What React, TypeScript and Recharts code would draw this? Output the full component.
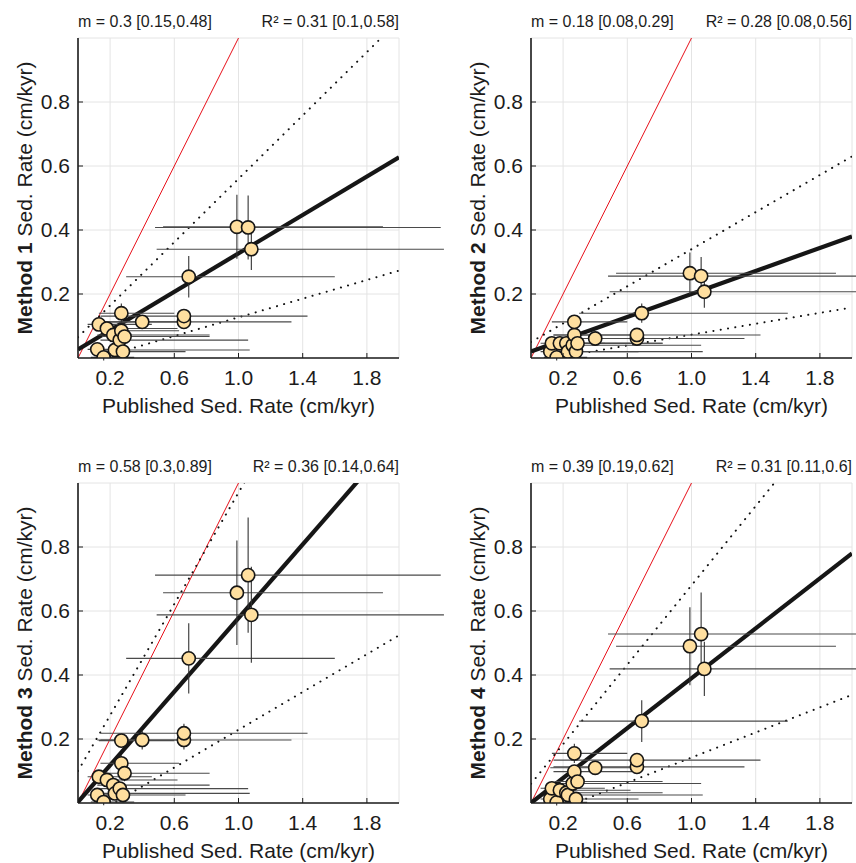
import { ComposedChart, Scatter, Line, XAxis, YAxis, CartesianGrid, ErrorBar, Label } from 'recharts'

// published sedimentation rates (shared by all four panels) and their uncertainty
const pubRate = [0.12, 0.13, 0.16, 0.18, 0.22, 0.23, 0.26, 0.27, 0.27, 0.28, 0.29, 0.40, 0.66, 0.66, 0.69, 0.99, 1.06, 1.08]
const pubLo = [0.06, 0.07, 0.08, 0.09, 0.10, 0.10, 0.12, 0.13, 0.14, 0.13, 0.14, 0.28, 0.52, 0.52, 0.39, 0.46, 0.58, 0.59]
const pubHi = [0.16, 0.33, 0.19, 0.44, 0.60, 0.84, 0.80, 0.36, 0.33, 0.39, 0.53, 0.22, 0.67, 0.77, 0.91, 0.91, 1.20, 1.20]

// estimated rates per method
const method1 = [0.027, 0.105, 0.002, 0.092, 0.072, 0.025, 0.056, 0.085, 0.14, 0.02, 0.067, 0.113, 0.113, 0.131, 0.254, 0.41, 0.408, 0.34]
const method2 = [0.02, 0.046, 0.002, 0.046, 0.046, 0.02, 0.04, 0.072, 0.113, 0.02, 0.046, 0.061, 0.061, 0.072, 0.14, 0.265, 0.256, 0.207]
const method3 = [0.025, 0.082, 0.003, 0.072, 0.056, 0.03, 0.045, 0.124, 0.195, 0.025, 0.093, 0.197, 0.197, 0.218, 0.452, 0.657, 0.712, 0.588]
const method4 = [0.0125, 0.046, 0.002, 0.04, 0.032, 0.025, 0.061, 0.098, 0.155, 0.0125, 0.067, 0.11, 0.113, 0.134, 0.256, 0.49, 0.528, 0.419]

const err1 = [0.01, 0.015, 0.01, 0.015, 0.015, 0.01, 0.015, 0.02, 0.03, 0.01, 0.02, 0.02, 0.02, 0.02, 0.065, 0.1, 0.1, 0.065]
const err2 = [0.01, 0.01, 0.01, 0.01, 0.01, 0.01, 0.01, 0.015, 0.02, 0.01, 0.01, 0.015, 0.015, 0.015, 0.03, 0.065, 0.06, 0.05]
const err3 = [0.015, 0.02, 0.01, 0.02, 0.02, 0.015, 0.02, 0.025, 0.02, 0.015, 0.025, 0.03, 0.03, 0.03, 0.11, 0.163, 0.18, 0.15]
const err4 = [0.01, 0.015, 0.01, 0.015, 0.015, 0.01, 0.015, 0.02, 0.03, 0.01, 0.02, 0.02, 0.02, 0.02, 0.065, 0.122, 0.13, 0.085]

const methods = [method1, method2, method3, method4]
const errors = [err1, err2, err3, err4]

// regression line and dotted bounds (slope, intercept)
const fitSlope = [0.3, 0.18, 0.575, 0.39]
const fitIntercept = [0.027, 0.02, 0.003, 0.0]
const upSlope = [0.495, 0.29, 0.87, 0.62]
const upIntercept = [0.065, 0.05, 0.1, 0.06]
const loSlope = [0.146, 0.085, 0.295, 0.196]
const loIntercept = [-0.019, -0.012, -0.066, -0.054]
const lineEnds = [0, 2]

const slopeText = ['m = 0.3 [0.15,0.48]', 'm = 0.18 [0.08,0.29]', 'm = 0.58 [0.3,0.89]', 'm = 0.39 [0.19,0.62]']
const r2Text = ['R² = 0.31 [0.1,0.58]', 'R² = 0.28 [0.08,0.56]', 'R² = 0.36 [0.14,0.64]', 'R² = 0.31 [0.11,0.6]']

const X_TICKS = [0.2, 0.6, 1.0, 1.4, 1.8]
const Y_TICKS = [0.2, 0.4, 0.6, 0.8]
const FONT = '"Liberation Sans", Arial, Helvetica, sans-serif'
const INK = '#1c1c1c'

const W = 455, H = 445
const M = { top: 38, right: 56, bottom: 0, left: 0 }
const TICK = 5

function Dot(p: any) {
  return <circle cx={p.cx} cy={p.cy} r={6.6} fill="#FFDF9F" stroke="#161616" strokeWidth={1.6} />
}
const NoDot = () => <g />

// MATLAB-style inward ticks, drawn next to the labels
const BottomTick = (p: any) => (
  <g>
    <line x1={p.x} x2={p.x} y1={p.y - 12} y2={p.y - 12 - TICK} stroke={INK} strokeWidth={1} />
    <text x={p.x} y={p.y} dy="0.71em" textAnchor="middle" fontSize={21} fontFamily={FONT} fill={INK}>{p.payload.value.toFixed(1)}</text>
  </g>
)
const LeftTick = (p: any) => (
  <g>
    <line x1={p.x + 8} x2={p.x + 8 + TICK} y1={p.y} y2={p.y} stroke={INK} strokeWidth={1} />
    <text x={p.x} y={p.y} dy="0.355em" textAnchor="end" fontSize={21} fontFamily={FONT} fill={INK}>{p.payload.value.toFixed(1)}</text>
  </g>
)
const TopTick = (p: any) => <line x1={p.x} x2={p.x} y1={p.y} y2={p.y + TICK} stroke={INK} strokeWidth={1} />
const RightTick = (p: any) => <line x1={p.x - TICK} x2={p.x} y1={p.y} y2={p.y} stroke={INK} strokeWidth={1} />

function Panel({ i, left, top }: { i: number; left: number; top: number }) {
  const pts = pubRate.map((x, k) => ({ x, y: methods[i][k], ex: [pubLo[k], pubHi[k]], ey: errors[i][k] }))
  const line = (m: number, b: number) => lineEnds.map(x => ({ x, y: b + m * x }))
  const axisLine = { stroke: INK, strokeWidth: 1.6 }
  return (
    <div style={{ position: 'absolute', left, top, width: W, height: H }}>
      <div style={{ position: 'absolute', left: 78, top: 14, fontSize: 16, lineHeight: '16px', fontFamily: FONT, color: INK, whiteSpace: 'nowrap' }}>{slopeText[i]}</div>
      <div style={{ position: 'absolute', right: 56, top: 14, fontSize: 16, lineHeight: '16px', fontFamily: FONT, color: INK, whiteSpace: 'nowrap' }}>{r2Text[i]}</div>
      <ComposedChart width={W} height={H} margin={M}>
        <CartesianGrid stroke="#e4e4e4" strokeWidth={1} />
        <XAxis dataKey="x" type="number" domain={[0, 2]} ticks={X_TICKS} allowDataOverflow height={87}
          tickSize={0} tickMargin={12} axisLine={axisLine} tickLine={false} tick={BottomTick}>
          <Label content={(p: any) => {
            const vb = p.viewBox
            return <text x={vb.x + vb.width / 2} y={vb.y + 55} textAnchor="middle" fontSize={21} fontFamily={FONT} fill={INK}>Published Sed. Rate (cm/kyr)</text>
          }} />
        </XAxis>
        <XAxis xAxisId="t" orientation="top" type="number" domain={[0, 2]} ticks={X_TICKS} allowDataOverflow height={0}
          tickSize={0} tickMargin={0} axisLine={axisLine} tickLine={false} tick={TopTick} />
        <YAxis dataKey="y" type="number" domain={[0, 1]} ticks={Y_TICKS} allowDataOverflow width={78}
          tickSize={0} tickMargin={8} axisLine={axisLine} tickLine={false} tick={LeftTick}>
          <Label content={(p: any) => {
            const vb = p.viewBox
            const cx = vb.x + 32
            const cy = vb.y + vb.height / 2
            return (
              <text x={cx} y={cy} transform={`rotate(-90 ${cx} ${cy})`} textAnchor="middle" fontSize={21} fontFamily={FONT} fill={INK}>
                <tspan fontWeight="bold">{`Method ${i + 1}`}</tspan>{' Sed. Rate (cm/kyr)'}
              </text>
            )
          }} />
        </YAxis>
        <YAxis yAxisId="r" orientation="right" type="number" domain={[0, 1]} ticks={Y_TICKS} allowDataOverflow width={0}
          tickSize={0} tickMargin={0} axisLine={axisLine} tickLine={false} tick={RightTick} />

        <Scatter data={pts} shape={NoDot} isAnimationActive={false} zIndex={100}>
          <ErrorBar dataKey="ex" direction="x" width={0} stroke="#4a4a4a" strokeWidth={1.1} isAnimationActive={false} />
          <ErrorBar dataKey="ey" direction="y" width={0} stroke="#333" strokeWidth={1.1} isAnimationActive={false} />
        </Scatter>
        <Line data={line(1, 0)} dataKey="y" stroke="#e8101a" strokeWidth={1} dot={false} isAnimationActive={false} zIndex={200} />
        <Line data={line(upSlope[i], upIntercept[i])} dataKey="y" stroke="#111" strokeWidth={2} strokeDasharray="0.1 7.3" strokeLinecap="round" dot={false} isAnimationActive={false} zIndex={200} />
        <Line data={line(loSlope[i], loIntercept[i])} dataKey="y" stroke="#111" strokeWidth={2} strokeDasharray="0.1 7.3" strokeLinecap="round" dot={false} isAnimationActive={false} zIndex={200} />
        <Line data={line(fitSlope[i], fitIntercept[i])} dataKey="y" stroke="#161616" strokeWidth={4.2} dot={false} isAnimationActive={false} zIndex={300} />
        <Scatter data={pts} shape={Dot} isAnimationActive={false} zIndex={400} />
      </ComposedChart>
    </div>
  )
}

export default function App() {
  return (
    <div style={{ position: 'fixed', left: 0, top: 0, width: 856, height: 863, overflow: 'hidden', background: '#fff' }}>
      <Panel i={0} left={0} top={0} />
      <Panel i={1} left={453} top={0} />
      <Panel i={2} left={0} top={445} />
      <Panel i={3} left={453} top={445} />
    </div>
  )
}
